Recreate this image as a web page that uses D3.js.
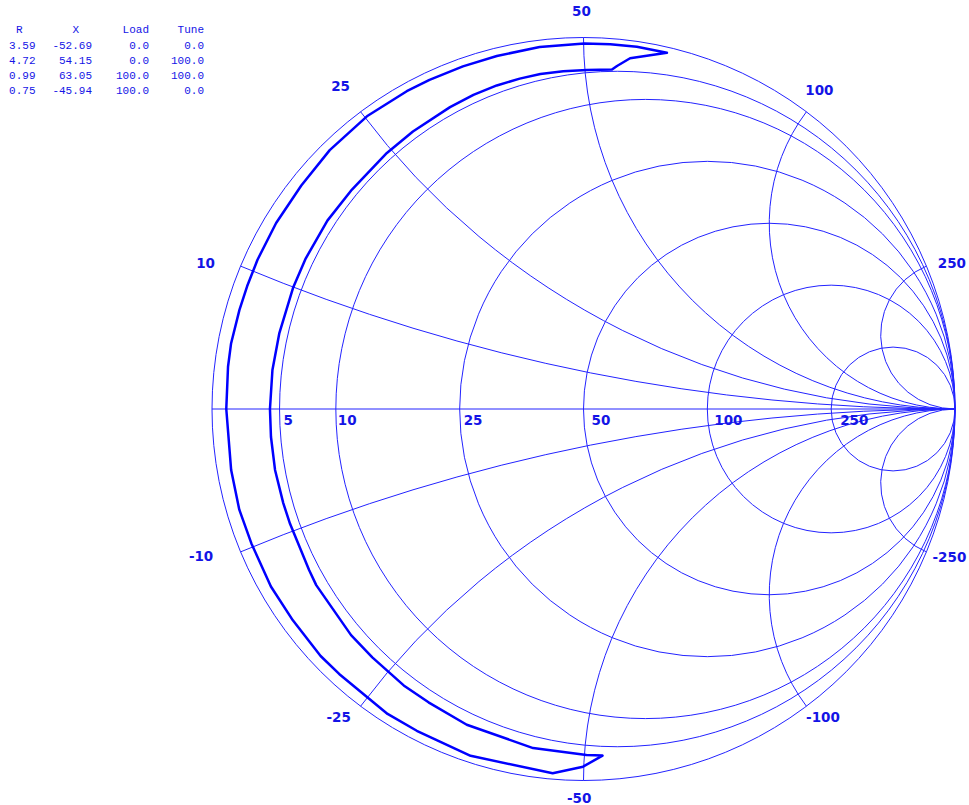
<!DOCTYPE html>
<html>
<head>
<meta charset="utf-8">
<script src="https://cdn.jsdelivr.net/npm/d3@7"></script>
<style>
  html, body { margin: 0; padding: 0; background: #ffffff; }
  svg { display: block; }
</style>
</head>
<body>
<svg id="chart" width="969" height="805"></svg>
<script>
// Reference impedance of the chart (ohms)
const Z0 = 50;

// Grid: constant-resistance circles and constant-reactance arcs (ohms)
const resistanceGrid = [5, 10, 25, 50, 100, 250];
const reactanceGrid = [10, 25, 50, 100, 250];

// Tuner corner readings (shown in the table, top left)
const cornerR = [3.59, 4.72, 0.99, 0.75];
const cornerX = [-52.69, 54.15, 63.05, -45.94];
const cornerLoad = [0.0, 0.0, 100.0, 100.0];
const cornerTune = [0.0, 100.0, 100.0, 0.0];

// Load = 0 edge, tune sweeping 0 -> 100 (between corner 0 and corner 1)
const loadMinR = [3.58, 3.5, 3.65, 3.85, 3.85, 3.95, 3.95, 4.05, 4.15, 4.25, 4.24, 4.2, 4.22, 4.23, 4.25,
                  4.3, 4.3, 4.3, 4.3, 4.4, 4.35, 4.3, 4.2, 4.12, 4.1, 4.15, 4.2, 4.4, 4.6];
const loadMinX = [-50.3, -43.0, -34.7, -30.0, -27.0, -23.0, -20.2, -14.9, -13.5, -9.37, -7.6, -4.86, -2.2, 0.0, 3.1,
                  6.1, 10.0, 12.6, 16.3, 19.8, 24.5, 27.8, 32.4, 35.3, 38.2, 41.1, 43.8, 46.9, 50.3];

// Tune = 100 edge, load sweeping 0 -> 100 (corner 1 -> corner 2)
const tuneMaxR = [4.15, 2.81];
const tuneMaxX = [54.95, 57.0];

// Load = 100 edge, tune sweeping 0 -> 100 (corner 3 -> corner 2)
const loadMaxR = [0.70, 0.85, 0.80, 0.90, 0.85, 0.92, 0.88, 0.94, 0.90, 0.96, 0.98, 0.93, 0.90, 0.94,
                  0.95, 0.93, 0.90, 0.88, 0.72, 0.63, 0.72, 0.78, 0.85, 0.88, 0.82, 0.80, 0.83, 0.86];
const loadMaxX = [-36.3, -30.4, -27.3, -21.9, -19.8, -16.25, -13.2, -9.73, -7.16, -4.3, 0.0, 2.96, 4.61, 7.06,
                  8.83, 10.9, 13.95, 17.4, 21.0, 25.2, 29.4, 31.8, 35.4, 39.2, 44.3, 50.1, 53.8, 57.9];

// Tune = 0 edge, load sweeping 0 -> 100 (corner 0 -> corner 3)
const tuneMinR = [1.89];
const tuneMinX = [-49.9];

// ---------------------------------------------------------------------------
const cx = 583.5, cy = 409, rad = 371.5;
const gx = d3.scaleLinear().domain([-1, 1]).range([cx - rad, cx + rad]);
const gy = d3.scaleLinear().domain([-1, 1]).range([cy + rad, cy - rad]);
const unit = gx(1) - gx(0);

// Impedance (ohms) -> reflection coefficient [re, im]
function gamma(R, X) {
  const r = R / Z0, x = X / Z0;
  const d = (r + 1) * (r + 1) + x * x;
  return [(r * r - 1 + x * x) / d, (2 * x) / d];
}

const svg = d3.select("#chart");
const lineBlue = "#2323ff";
const textBlue = "#1414e6";

const grid = svg.append("g")
  .attr("fill", "none")
  .attr("stroke", lineBlue)
  .attr("stroke-width", 1);

// Outer boundary (R = 0)
grid.append("circle")
  .attr("cx", gx(0)).attr("cy", gy(0)).attr("r", unit);

// Real axis
grid.append("line")
  .attr("x1", gx(-1)).attr("x2", gx(1))
  .attr("y1", gy(0)).attr("y2", gy(0));

// Constant-resistance circles
grid.selectAll("circle.res")
  .data(resistanceGrid)
  .join("circle")
  .attr("class", "res")
  .attr("cx", R => gx((R / Z0) / (1 + R / Z0)))
  .attr("cy", gy(0))
  .attr("r", R => unit / (1 + R / Z0));

// Constant-reactance arcs, from the outer circle to the open-circuit point
const reactanceArcs = reactanceGrid.flatMap(X => [X, -X]);
grid.selectAll("path.reac")
  .data(reactanceArcs)
  .join("path")
  .attr("class", "reac")
  .attr("d", X => {
    const [u, v] = gamma(0, X);
    const rr = unit * Math.abs(Z0 / X);
    return `M${gx(u)},${gy(v)} A${rr},${rr} 0 0 ${X > 0 ? 0 : 1} ${gx(1)},${gy(0)}`;
  });

// Resistance labels along the real axis
const resDx = [4, 2, 4, 8, 7, 9];
svg.append("g")
  .attr("font-family", "'DejaVu Sans', Verdana, sans-serif")
  .attr("font-weight", "bold")
  .attr("font-size", "13.5px")
  .attr("fill", textBlue)
  .selectAll("text")
  .data(resistanceGrid)
  .join("text")
  .attr("x", (R, i) => gx((R / Z0 - 1) / (R / Z0 + 1)) + resDx[i])
  .attr("y", gy(0) + 15.5)
  .text(R => String(R));

// Reactance labels just outside the outer circle
const posOff = [[-35, 2], [-20, -21], [-2, -21.5], [13, -17], [25.5, 2]];
const negOff = [[-39.5, 9], [-22, 15.7], [-4.3, 22], [16.6, 16], [23, 10]];
const reacLabels = reactanceGrid.flatMap((X, i) => [
  { X: X, off: posOff[i] },
  { X: -X, off: negOff[i] }
]);
svg.append("g")
  .attr("font-family", "'DejaVu Sans', Verdana, sans-serif")
  .attr("font-weight", "bold")
  .attr("font-size", "13.5px")
  .attr("fill", textBlue)
  .attr("text-anchor", "middle")
  .selectAll("text")
  .data(reacLabels)
  .join("text")
  .attr("x", d => gx(gamma(0, d.X)[0]) + d.off[0])
  .attr("y", d => gy(gamma(0, d.X)[1]) + d.off[1])
  .text(d => String(d.X));

// Tuning-range boundary: corner 0 -> load=0 edge -> corner 1 -> tune=100 edge
// -> corner 2 -> load=100 edge (reversed) -> corner 3 -> tune=0 edge (reversed)
const zip = (R, X) => R.map((r, i) => [r, X[i]]);
const corner = i => [cornerR[i], cornerX[i]];
const loop = [
  corner(0),
  ...zip(loadMinR, loadMinX),
  corner(1),
  ...zip(tuneMaxR, tuneMaxX),
  corner(2),
  ...zip(loadMaxR, loadMaxX).reverse(),
  corner(3),
  ...zip(tuneMinR, tuneMinX).reverse()
];
const traceLine = d3.line()
  .x(d => gx(gamma(d[0], d[1])[0]))
  .y(d => gy(gamma(d[0], d[1])[1]))
  .curve(d3.curveLinearClosed);
svg.append("path")
  .attr("d", traceLine(loop))
  .attr("fill", "none")
  .attr("stroke", "#0000ff")
  .attr("stroke-width", 2.5)
  .attr("stroke-linejoin", "round");

// Corner table
const table = svg.append("g")
  .attr("font-family", "'Liberation Mono', 'Courier New', monospace")
  .attr("font-size", "11px")
  .attr("fill", textBlue)
  .attr("text-anchor", "end");
const headers = ["R", "X", "Load", "Tune"];
const headerRight = [22.5, 79, 149, 204];
const colRight = [35.5, 92, 149, 204];
headers.forEach((h, i) => {
  table.append("text").attr("x", headerRight[i]).attr("y", 32.5).text(h);
});
const rows = cornerR.map((r, i) => [
  r.toFixed(2), cornerX[i].toFixed(2), cornerLoad[i].toFixed(1), cornerTune[i].toFixed(1)
]);
rows.forEach((row, j) => {
  row.forEach((cell, i) => {
    table.append("text").attr("x", colRight[i]).attr("y", 48.5 + j * 15).text(cell);
  });
});
</script>
</body>
</html>
